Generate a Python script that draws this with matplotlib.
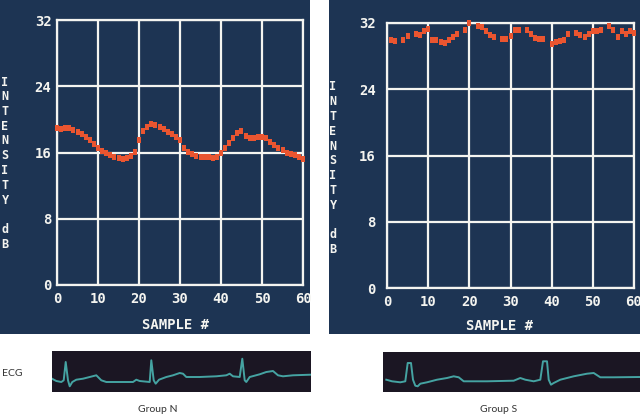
import matplotlib
matplotlib.use("Agg")
import matplotlib.pyplot as plt
from matplotlib.patches import Rectangle

# ---------------- data ----------------
x_ticks = [0, 10, 20, 30, 40, 50, 60]
y_ticks = [0, 8, 16, 24, 32]
ylabel_letters = ["I", "N", "T", "E", "N", "S", "I", "T", "Y", "", "d", "B"]
xlabel_text = "SAMPLE #"

groupN_x = list(range(0, 61))
groupN_y = [19.0, 18.8, 18.9, 18.9, 18.7, 18.5, 18.2, 17.9, 17.5, 17.0,
            16.6, 16.2, 15.9, 15.7, 15.5, 15.3, 15.2, 15.3, 15.6, 16.1,
            17.5, 18.6, 19.1, 19.4, 19.3, 19.1, 18.8, 18.5, 18.2, 17.9,
            17.5, 16.5, 16.1, 15.8, 15.6, 15.5, 15.4, 15.4, 15.3, 15.4,
            15.9, 16.5, 17.1, 17.8, 18.3, 18.6, 18.0, 17.8, 17.8, 17.9,
            17.9, 17.7, 17.3, 16.9, 16.6, 16.3, 16.0, 15.8, 15.7, 15.4, 15.2]

groupS_x = [1, 2, 4, 5, 7, 8, 9, 10, 11, 12, 13, 14, 15, 16, 17, 19, 20,
            22, 23, 24, 25, 26, 28, 29, 30, 31, 32, 34, 35, 36, 37, 38, 40,
            41, 42, 43, 44, 46, 47, 48, 49, 50, 51, 52, 54, 55, 56, 57, 58, 59, 60]
groupS_y = [29.9, 29.8, 30.0, 30.4, 30.7, 30.6, 31.0, 31.3, 30.0, 29.9,
            29.7, 29.6, 29.9, 30.3, 30.7, 31.2, 32.0, 31.6, 31.5, 31.0,
            30.5, 30.3, 30.1, 30.1, 30.4, 31.2, 31.2, 31.2, 30.7, 30.2,
            30.1, 30.1, 29.5, 29.7, 29.8, 30.0, 30.7, 30.75, 30.5, 30.3,
            30.7, 31.0, 31.0, 31.1, 31.6, 31.1, 30.3, 31.0, 30.7, 31.0, 30.8]

ecgN_t = [0, 4.3, 9.3, 11.7, 13.7, 16, 17.7, 20.3, 24.3, 31, 37.7, 44.3, 49.3,
          54.3, 81, 84.3, 87.7, 97.7, 99.3, 101.7, 103.7, 107, 114.3, 121,
          127.7, 131, 134.3, 147.7, 164.3, 174.3, 177.7, 181, 187.7, 190.3,
          192.7, 194.3, 197.7, 207.7, 214.3, 221, 226, 231, 241, 258.7]
ecgN_v = [13.3, 11, 10, 11.7, 30, 11.7, 5.7, 10, 12.3, 13.3, 15, 16.7, 11.7,
          10, 10, 12.3, 11, 10, 31.7, 11.7, 8.3, 12.3, 15, 16.7,
          19, 18.3, 15, 15, 15.7, 16.7, 18.3, 15.7, 15, 33.3,
          11.7, 10, 15, 17.7, 20, 21, 16.7, 15.7, 16.7, 17.3]

ecgS_t = [3.3, 9, 17.3, 22.3, 24.7, 28, 30, 32.3, 34.7, 37.3, 44, 54, 64,
          70.7, 75.7, 80.7, 104, 130.7, 137.3, 142.3, 150.7, 157.3, 160, 164,
          165.7, 168, 170.7, 177.3, 190.7, 204, 210.7, 217.3, 230.7, 257.3]
ecgS_v = [12.3, 10.7, 9.7, 10.7, 29, 29, 12.3, 6.3, 5.7, 8.3, 9.7, 12.3, 14,
          15.7, 14.7, 10.7, 10.7, 11.3, 14, 12.3, 10.7, 12.3, 30.7, 30.7,
          12.3, 7.3, 9, 12.3, 15.7, 18.3, 19, 14.7, 14.7, 15]

ecg_label = "ECG"
group_labels = ["Group N", "Group S"]

# ---------------- style ----------------
W, H = 640, 420
NAVY = "#1d3453"
GRID = "#f4f4f0"
MARK = "#ea5530"
STRIP = "#1b1623"
TRACE = "#45a3a2"
TXT = "#333333"
MONO = "DejaVu Sans Mono"

fig = plt.figure(figsize=(6.4, 4.2), dpi=100)
fig.patch.set_facecolor("white")


def fx(px):
    return px / W


def fy(py):
    return 1 - py / H


# navy panels (background axes)
bg = fig.add_axes([0, 0, 1, 1], zorder=-10)
bg.set_xlim(0, W)
bg.set_ylim(H, 0)
bg.axis("off")
for (x0, x1) in [(0, 310), (329, 640)]:
    bg.add_patch(Rectangle((x0, 0), x1 - x0, 334, facecolor=NAVY,
                           edgecolor="none"))

marker_verts = [(-0.3, -0.5), (0.3, -0.5), (0.3, 0.5), (-0.3, 0.5), (-0.3, -0.5)]


def make_panel(box, xs, ys, ypad, letters_x, letters_y0, xlabel_xc, xlabel_y):
    l, t, r, b = box
    ax = fig.add_axes([fx(l), fy(b), fx(r - l), (b - t) / H])
    ax.patch.set_alpha(0)
    ax.set_xlim(0, 60)
    ax.set_ylim(0, 32)
    ax.set_xticks(x_ticks)
    ax.set_yticks(y_ticks)
    ax.set_xticklabels([str(v) for v in x_ticks])
    ax.set_yticklabels([str(v) for v in y_ticks])
    ax.tick_params(length=0, colors=GRID, labelsize=10)
    ax.tick_params(axis="y", pad=ypad)
    ax.tick_params(axis="x", pad=5)
    for lab in ax.get_xticklabels() + ax.get_yticklabels():
        lab.set_fontfamily(MONO)
        lab.set_fontweight("bold")
    ax.grid(True, color=GRID, lw=1.6)
    for s in ax.spines.values():
        s.set_color(GRID)
        s.set_linewidth(1.6)
    ax.set_axisbelow(True)
    ax.plot(xs, ys, linestyle="none", marker=marker_verts, markersize=5.0,
            color=MARK, markeredgewidth=0, clip_on=False, zorder=5)
    step = 14.75
    for i, ch in enumerate(ylabel_letters):
        if ch:
            fig.text(fx(letters_x), fy(letters_y0 + i * step), ch, color=GRID,
                     fontsize=8.5, fontfamily=MONO, fontweight="bold",
                     ha="center", va="center")
    fig.text(fx(xlabel_xc), fy(xlabel_y), xlabel_text, color=GRID, fontsize=10,
             fontfamily=MONO, fontweight="bold", ha="center", va="center")
    return ax


make_panel((57, 20, 303, 285), groupN_x, groupN_y, 4, 5, 82, 176, 325)
make_panel((387, 23, 634, 288), groupS_x, groupS_y, 8, 333, 87, 500, 326)


def make_strip(box, t, v, xmax, ymax):
    l, tp, r, b = box
    ax = fig.add_axes([fx(l), fy(b), fx(r - l), (b - tp) / H])
    ax.set_facecolor(STRIP)
    ax.set_xlim(0, xmax)
    ax.set_ylim(0, ymax)
    ax.set_xticks([])
    ax.set_yticks([])
    for s in ax.spines.values():
        s.set_visible(False)
    ax.plot(t, v, color=TRACE, lw=1.4, solid_joinstyle="round")
    return ax


make_strip((52, 351, 311, 392), ecgN_t, ecgN_v, 259, 41)
make_strip((383, 352, 640, 392), ecgS_t, ecgS_v, 257, 40)

fig.text(fx(12), fy(373), ecg_label, color=TXT, fontsize=7.5, fontfamily="Lato",
         ha="center", va="center")
fig.text(fx(158), fy(410), group_labels[0], color=TXT, fontsize=7.5,
         fontfamily="Lato", ha="center", va="center")
fig.text(fx(499), fy(410), group_labels[1], color=TXT, fontsize=7.5,
         fontfamily="Lato", ha="center", va="center")

fig.savefig("out.png", dpi=100, facecolor="white")
